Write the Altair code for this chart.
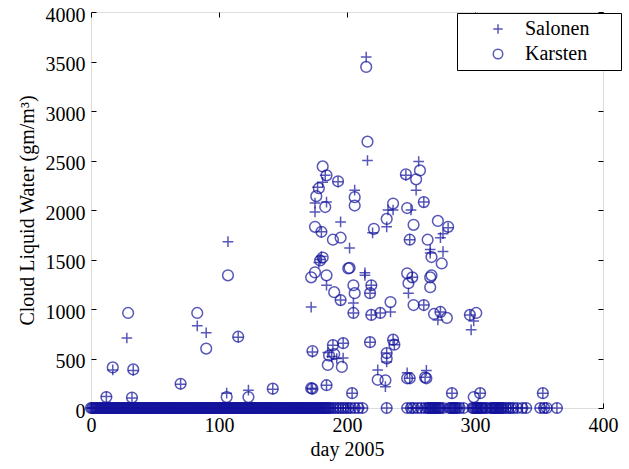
import altair as alt
import pandas as pd

# Days with zero cloud liquid water (both retrievals)
ZERO_DAYS = [0, 1, 2, 3, 4, 5, 6, 7, 8, 9, 10, 11, 12, 13, 14, 15, 16, 17, 18, 19,
             20, 21, 22, 23, 24, 25, 26, 27, 28, 29, 30, 31, 32, 33, 34, 35, 36, 37, 38,
             39, 40, 41, 42, 43, 44, 45, 46, 47, 48, 49, 50, 51, 52, 53, 54, 55, 56, 57,
             58, 59, 60, 61, 62, 63, 64, 65, 66, 67, 68, 69, 70, 71, 72, 73, 74, 75, 76,
             77, 78, 79, 80, 81, 82, 83, 84, 85, 86, 87, 88, 89, 90, 91, 92, 93, 94, 95,
             96, 97, 98, 99, 100, 101, 102, 103, 104, 105, 106, 107, 108, 109, 110, 111,
             112, 113, 114, 115, 116, 117, 118, 119, 120, 121, 122, 123, 124, 125, 126,
             127, 128, 129, 130, 131, 132, 133, 134, 135, 136, 137, 138, 139, 140, 141,
             142, 143, 144, 145, 146, 147, 148, 149, 150, 151, 152, 153, 154, 155, 156,
             157, 158, 159, 160, 161, 162, 163, 164, 165, 166, 167, 168, 169, 170, 171,
             172, 173, 174, 175, 176, 177, 178, 179, 180, 181, 182, 183, 184, 185, 186,
             187, 189, 191, 193, 195, 197, 199, 201, 203, 206, 209, 212, 231, 247, 250,
             252, 255, 258, 261, 263, 264, 265, 266, 267, 268, 269, 270, 271, 272, 273,
             275, 280, 281, 282, 283, 284, 285, 286, 288, 291, 298, 299, 300, 301, 302,
             303, 304, 305, 306, 308, 309, 312, 313, 314, 315, 316, 317, 318, 319, 320,
             321, 322, 324, 326, 328, 330, 333, 337, 340, 351, 354, 356, 364]

# Salonen (+) non-zero retrievals
SAL_DAYS = [12, 17, 28, 33, 32, 70, 83, 90, 107, 106, 115, 123, 142, 173, 172, 173,
            215, 216, 183, 181, 193, 177, 175, 184, 175, 180, 195, 206, 220, 256, 246,
            254, 260, 236, 232, 250, 231, 275, 202, 214, 179, 178, 180, 249, 265, 279,
            273, 275, 265, 251, 214, 184, 195, 219, 218, 205, 205, 219, 226, 234, 248,
            260, 273, 271, 296, 297, 299, 189, 197, 185, 188, 192, 197, 218, 236, 237,
            231, 231, 224, 230, 247, 262, 172, 184, 204, 249, 261, 282, 304, 353]
SAL_VALS = [115, 385, 707, 380, 100, 240, 830, 760, 1680, 150, 715, 180, 190, 190, 1020, 565,
            3545, 2500, 2350, 2280, 2285, 2230, 2070, 2080, 1980, 1780, 1880, 2200, 1770, 2490, 2350,
            2200, 2080, 2000, 2000, 2000, 1830, 1760, 1615, 1365, 1500, 1470, 1530, 1700, 1565, 1820,
            1720, 1580, 1600, 1320, 1340, 1240, 1090, 1240, 1160, 1060, 960, 940, 960, 970, 1160,
            1040, 970, 890, 940, 790, 880, 635, 655, 560, 520, 500, 505, 665, 685, 640,
            555, 465, 385, 215, 355, 380, 200, 230, 150, 300, 310, 150, 150, 150]

# Karsten (o) non-zero retrievals
KAR_DAYS = [12, 17, 29, 33, 32, 70, 83, 90, 107, 106, 115, 123, 142, 173, 172, 173,
            215, 216, 181, 184, 193, 176, 183, 178, 175, 180, 195, 206, 206, 221, 231,
            236, 247, 252, 257, 246, 254, 260, 271, 279, 249, 263, 266, 274, 202, 189,
            175, 179, 181, 201, 247, 251, 266, 265, 265, 248, 184, 190, 195, 205, 206,
            219, 218, 205, 219, 226, 234, 252, 260, 273, 278, 268, 296, 301, 189, 197,
            186, 190, 185, 196, 218, 236, 237, 231, 231, 224, 230, 247, 262, 172, 184,
            204, 249, 261, 282, 299, 304, 353]
KAR_VALS = [110, 410, 960, 390, 105, 245, 960, 600, 1340, 110, 720, 110, 195, 195, 1320, 575,
            3445, 2690, 2440, 2350, 2290, 2140, 2030, 2220, 1830, 1780, 1720, 2130, 2045, 1810, 1910,
            2065, 2020, 1850, 2400, 2360, 2310, 2080, 1890, 1830, 1700, 1700, 1525, 1460, 1415, 1700,
            1370, 1490, 1520, 1410, 1360, 1320, 1340, 1320, 1220, 1260, 1340, 1170, 1090, 1240, 1160,
            1240, 1160, 960, 940, 960, 1070, 1040, 1040, 970, 910, 950, 940, 960, 635, 655,
            530, 545, 435, 415, 665, 690, 640, 555, 500, 285, 280, 300, 300, 200, 230,
            150, 300, 310, 150, 110, 150, 150]

SERIES = ["Salonen", "Karsten"]
X_TICKS = [0, 100, 200, 300, 400]
Y_TICKS = [0, 500, 1000, 1500, 2000, 2500, 3000, 3500, 4000]

rows = []
for d in ZERO_DAYS:
    rows.append({"series": "Salonen", "day": d, "clw": 0})
for d, v in zip(SAL_DAYS, SAL_VALS):
    rows.append({"series": "Salonen", "day": d, "clw": v})
for d in ZERO_DAYS:
    rows.append({"series": "Karsten", "day": d, "clw": 0})
for d, v in zip(KAR_DAYS, KAR_VALS):
    rows.append({"series": "Karsten", "day": d, "clw": v})
df = pd.DataFrame(rows)

COLOR = "#12129c"
FONT = "Liberation Serif"
PLUS = "M-1,0L1,0M0,-1L0,1"

xscale = alt.Scale(domain=[0, 400], nice=False, zero=False)
yscale = alt.Scale(domain=[0, 4000], nice=False)

main = alt.Chart(df).mark_point(
    filled=False, size=115, strokeWidth=1.5, color=COLOR
).encode(
    x=alt.X("day:Q", scale=xscale,
            axis=alt.Axis(values=X_TICKS, grid=False, domain=False, offset=-5,
                          tickSize=5, tickColor="black", tickWidth=1, format="d",
                          labelFlush=False, labelFont=FONT, labelFontSize=20,
                          labelColor="black", labelPadding=7, title="day 2005",
                          titleFont=FONT, titleFontSize=20, titleFontWeight="normal",
                          titleColor="black", titlePadding=4)),
    y=alt.Y("clw:Q", scale=yscale,
            axis=alt.Axis(values=Y_TICKS, grid=False, domain=False, offset=-5,
                          tickSize=5, tickColor="black", tickWidth=1, format="d",
                          labelFlush=False, labelFont=FONT, labelFontSize=20,
                          labelColor="black", labelPadding=6, labelOffset=3,
                          title="Cloud Liquid Water (gm/m³)",
                          titleFont=FONT, titleFontSize=20, titleFontWeight="normal",
                          titleColor="black", titlePadding=8)),
    shape=alt.Shape("series:N",
                    scale=alt.Scale(domain=SERIES, range=[PLUS, "circle"]),
                    legend=alt.Legend(orient="none", legendX=366, legendY=1,
                                      title="m", titleOrient="right", titleOpacity=0,
                                      titleFont=FONT, titleFontSize=20, titlePadding=9,
                                      strokeColor="black", fillColor="white",
                                      padding=6, symbolOffset=25, labelOffset=17,
                                      rowPadding=5, labelFont=FONT, labelFontSize=20,
                                      labelColor="black", symbolSize=90,
                                      symbolStrokeWidth=1.5, symbolStrokeColor=COLOR,
                                      symbolFillColor="white")),
)

frame = alt.Chart(df).mark_point(opacity=0).encode(
    x=alt.X("day:Q", scale=xscale,
            axis=alt.Axis(orient="top", values=X_TICKS, grid=False, domain=False,
                          offset=-5, tickSize=5, tickColor="black", labels=False,
                          title=None)),
    y=alt.Y("clw:Q", scale=yscale,
            axis=alt.Axis(orient="right", values=Y_TICKS, grid=False, domain=False,
                          offset=-5, tickSize=5, tickColor="black", labels=False,
                          title=None)),
)

chart = alt.layer(main, frame).resolve_axis(
    x="independent", y="independent"
).properties(
    width=512, height=396,
    padding={"left": 91, "top": 12, "right": 26, "bottom": 61},
    autosize="none",
).configure_view(
    stroke="black", strokeWidth=1.5, fill="white"
).configure_axis(
    labelFont=FONT, titleFont=FONT
).configure_legend(
    labelFont=FONT, titleFont=FONT
).configure(background="white")

chart.save("out.html", embed_options={"renderer": "svg", "actions": False})
